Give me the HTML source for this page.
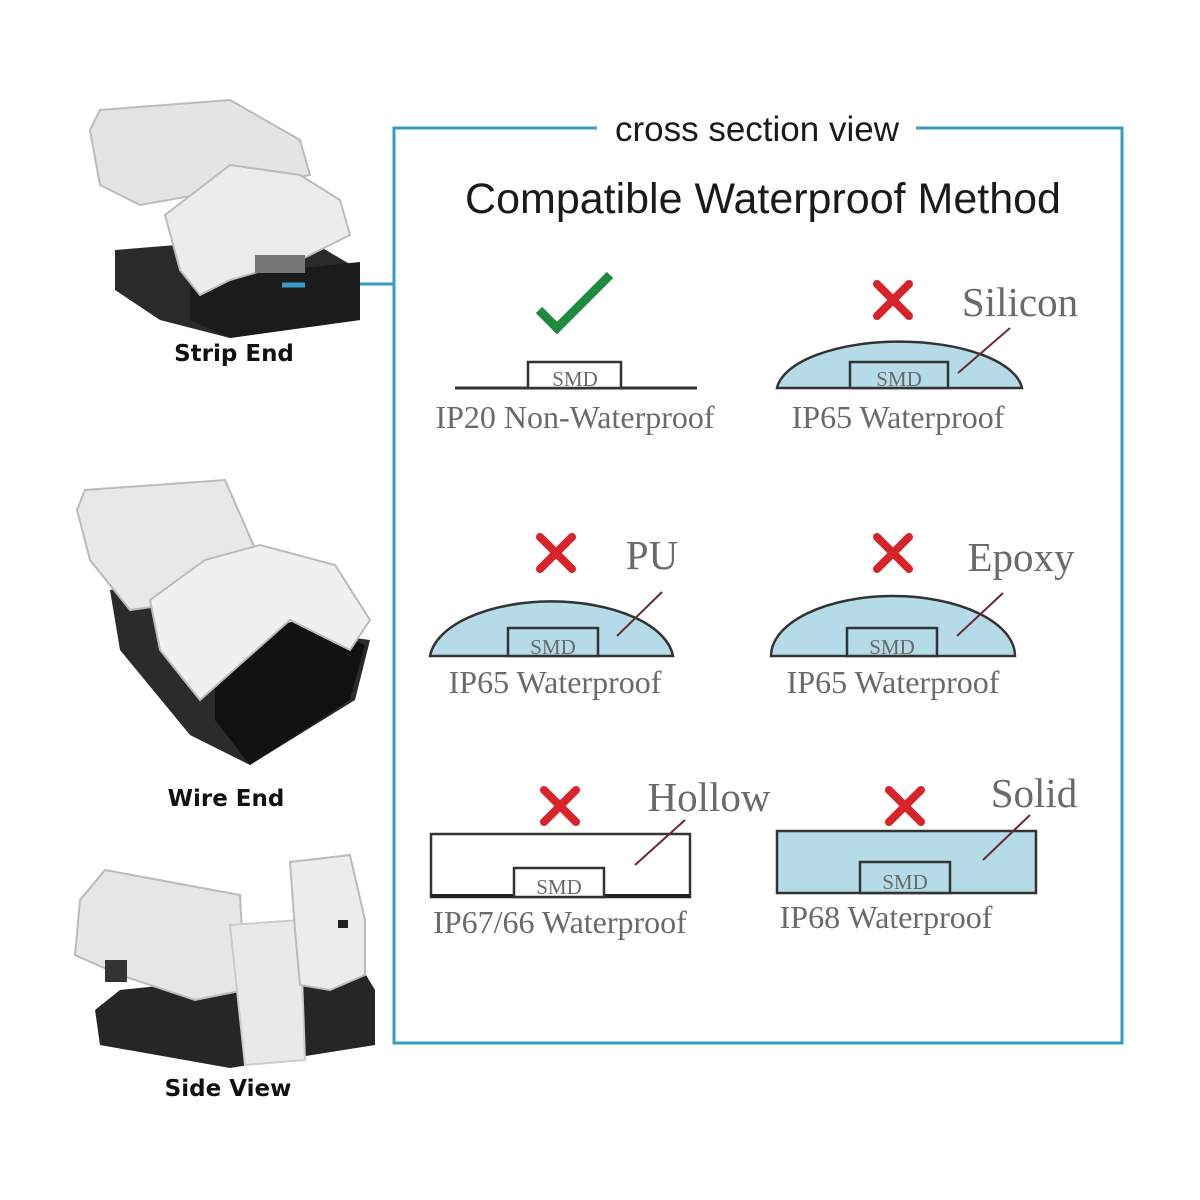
<!DOCTYPE html>
<html><head><meta charset="utf-8"><style>
html,body{margin:0;padding:0;background:#fff}
svg{display:block}
.s{font-family:"Liberation Serif",serif;fill:#6a6a6a}
.a{font-family:"Liberation Sans",sans-serif;fill:#1a1a1a}
.b{font-family:"DejaVu Sans","Liberation Sans",sans-serif;font-weight:bold;fill:#111}
</style></head><body>
<svg width="1200" height="1200" viewBox="0 0 1200 1200">
<defs>
<g id="x"><path d="M-16,-16 L16,16 M16,-16 L-16,16" stroke="#d8232a" stroke-width="8" stroke-linecap="round"/></g>
</defs>
<path d="M597,128 L394,128 L394,1043 L1122,1043 L1122,128 L916,128" fill="none" stroke="#3a9cc6" stroke-width="3"/>
<line x1="300" y1="284" x2="394" y2="284" stroke="#3a9cc6" stroke-width="3"/>
<text x="757" y="141" text-anchor="middle" class="a" font-size="35">cross section view</text>
<text x="763" y="213" text-anchor="middle" class="a" font-size="43">Compatible Waterproof Method</text>

<path d="M539,310 L557,328 L610,275" fill="none" stroke="#1e8a3e" stroke-width="9"/>
<line x1="455" y1="388" x2="697" y2="388" stroke="#333" stroke-width="3"/>
<rect x="528" y="362" width="93" height="26" fill="#fff" stroke="#333" stroke-width="2.5"/>
<text x="575" y="386" text-anchor="middle" class="s" font-size="21">SMD</text>
<text x="575" y="428" text-anchor="middle" class="s" font-size="32">IP20 Non-Waterproof</text>

<use href="#x" x="893" y="300"/>
<path d="M777,388 A123 51 0 0 1 1022,388 Z" fill="#b5dbe8" stroke="#333" stroke-width="2.5"/>
<rect x="850" y="362" width="98" height="26" fill="#b5dbe8" stroke="#333" stroke-width="2.5"/>
<text x="899" y="386" text-anchor="middle" class="s" font-size="21">SMD</text>
<line x1="958" y1="373" x2="1010" y2="328" stroke="#6a2a35" stroke-width="2"/>
<text x="1020" y="316" text-anchor="middle" class="s" font-size="41">Silicon</text>
<text x="898" y="428" text-anchor="middle" class="s" font-size="32">IP65 Waterproof</text>

<use href="#x" x="556" y="553"/>
<path d="M430,656 A122 60 0 0 1 673,656 Z" fill="#b5dbe8" stroke="#333" stroke-width="2.5"/>
<rect x="508" y="628" width="90" height="28" fill="#b5dbe8" stroke="#333" stroke-width="2.5"/>
<text x="553" y="654" text-anchor="middle" class="s" font-size="21">SMD</text>
<line x1="617" y1="636" x2="662" y2="592" stroke="#6a2a35" stroke-width="2"/>
<text x="652" y="569" text-anchor="middle" class="s" font-size="41">PU</text>
<text x="555" y="693" text-anchor="middle" class="s" font-size="32">IP65 Waterproof</text>

<use href="#x" x="893" y="553"/>
<path d="M771,656 A122 60 0 0 1 1015,656 Z" fill="#b5dbe8" stroke="#333" stroke-width="2.5"/>
<rect x="847" y="628" width="90" height="28" fill="#b5dbe8" stroke="#333" stroke-width="2.5"/>
<text x="892" y="654" text-anchor="middle" class="s" font-size="21">SMD</text>
<line x1="957" y1="636" x2="1003" y2="593" stroke="#6a2a35" stroke-width="2"/>
<text x="1021" y="571" text-anchor="middle" class="s" font-size="41">Epoxy</text>
<text x="893" y="693" text-anchor="middle" class="s" font-size="32">IP65 Waterproof</text>

<use href="#x" x="560" y="806"/>
<rect x="431" y="834" width="259" height="63" fill="#fff" stroke="#333" stroke-width="2.5"/>
<line x1="431" y1="896" x2="690" y2="896" stroke="#222" stroke-width="4"/>
<rect x="514" y="868" width="90" height="29" fill="#fff" stroke="#333" stroke-width="2.5"/>
<text x="559" y="894" text-anchor="middle" class="s" font-size="21">SMD</text>
<line x1="635" y1="865" x2="685" y2="820" stroke="#6a2a35" stroke-width="2"/>
<text x="709" y="811" text-anchor="middle" class="s" font-size="41">Hollow</text>
<text x="560" y="933" text-anchor="middle" class="s" font-size="32">IP67/66 Waterproof</text>

<use href="#x" x="905" y="806"/>
<rect x="777" y="831" width="259" height="62" fill="#b5dbe8" stroke="#333" stroke-width="2.5"/>
<rect x="860" y="862" width="90" height="31" fill="#b5dbe8" stroke="#333" stroke-width="2.5"/>
<text x="905" y="889" text-anchor="middle" class="s" font-size="21">SMD</text>
<line x1="983" y1="860" x2="1030" y2="815" stroke="#6a2a35" stroke-width="2"/>
<text x="1034" y="807" text-anchor="middle" class="s" font-size="41">Solid</text>
<text x="886" y="928" text-anchor="middle" class="s" font-size="32">IP68 Waterproof</text>

<g>
<path d="M115,250 L300,235 L360,270 L360,320 L230,338 L160,320 L115,290 Z" fill="#2a2a2a"/>
<path d="M190,280 L360,262 L360,320 L230,338 L190,320 Z" fill="#1b1b1b"/>
<path d="M90,130 L100,110 L230,100 L300,140 L310,175 L140,205 L100,185 Z" fill="#e4e4e4" stroke="#bbb" stroke-width="2"/>
<path d="M165,215 L230,165 L300,175 L340,200 L350,235 L300,260 L230,280 L200,295 L180,270 Z" fill="#ececec" stroke="#bbb" stroke-width="2"/>
<rect x="255" y="255" width="50" height="18" fill="#777"/>
<line x1="282" y1="285" x2="305" y2="285" stroke="#3a9cc6" stroke-width="5"/>
</g>
<text x="234" y="361" text-anchor="middle" class="b" font-size="23">Strip End</text>

<g>
<path d="M110,590 L165,580 L220,620 L370,640 L355,700 L250,765 L190,735 L120,650 Z" fill="#2b2b2b"/>
<path d="M215,640 L300,620 L365,645 L350,700 L250,765 L215,720 Z" fill="#111"/>
<path d="M77,510 L85,490 L225,480 L260,560 L200,600 L130,610 L90,560 Z" fill="#e8e8e8" stroke="#bbb" stroke-width="2"/>
<path d="M150,600 L205,560 L260,545 L335,565 L370,620 L350,650 L290,620 L245,660 L200,700 L160,650 Z" fill="#f0f0f0" stroke="#bbb" stroke-width="2"/>
</g>
<text x="226" y="806" text-anchor="middle" class="b" font-size="23">Wire End</text>

<g>
<path d="M95,1010 L120,990 L360,965 L375,990 L375,1045 L230,1068 L100,1045 Z" fill="#262626"/>
<path d="M80,900 L105,870 L240,895 L245,990 L195,1000 L120,975 L75,955 Z" fill="#e6e6e6" stroke="#bbb" stroke-width="2"/>
<path d="M230,925 L300,920 L305,1060 L245,1065 Z" fill="#e9e9e9" stroke="#ccc" stroke-width="2"/>
<path d="M290,862 L350,855 L365,920 L365,975 L330,990 L300,985 L295,930 Z" fill="#ececec" stroke="#bbb" stroke-width="2"/>
<rect x="338" y="920" width="10" height="8" fill="#222"/>
<rect x="105" y="960" width="22" height="22" fill="#333"/>
</g>
<text x="228" y="1096" text-anchor="middle" class="b" font-size="23">Side View</text>
</svg>
</body></html>
